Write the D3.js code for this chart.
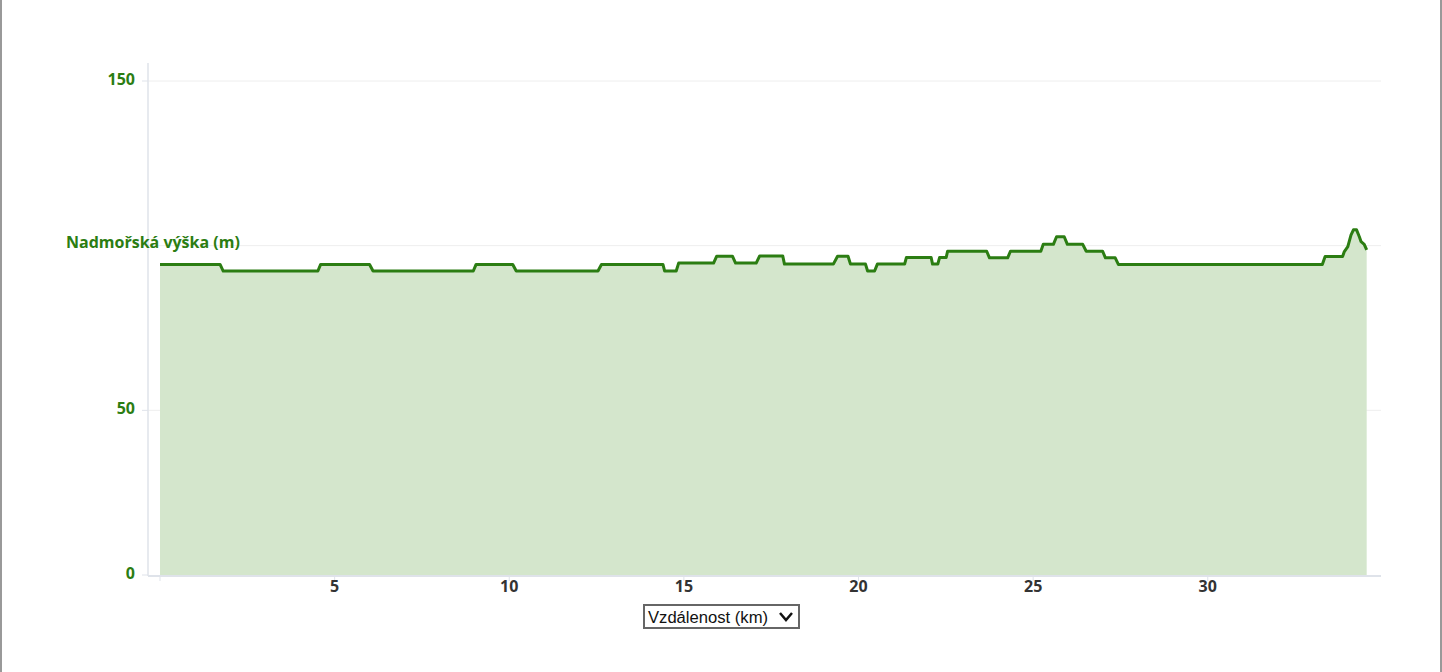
<!DOCTYPE html>
<html>
<head>
<meta charset="utf-8">
<script src="https://cdn.jsdelivr.net/npm/d3@7"></script>
<style>
  html, body { margin: 0; padding: 0; background: #fff; }
  #frame { width: 1442px; height: 672px; border-left: 2px solid #999; border-right: 2px solid #999; box-sizing: border-box; position: relative; }
  svg { display: block; margin-left: -2px; }
</style>
</head>
<body>
<div id="frame"><svg id="chart" width="1440" height="672"></svg></div>
<script>
// elevation profile: distance (km) and elevation (m)
const distances = [
  0, 1.72, 1.81, 4.52, 4.60, 6.00, 6.10, 8.97, 9.05, 10.10, 10.20, 12.54,
  12.64, 14.40, 14.45, 14.78, 14.85, 15.85, 15.94, 16.39, 16.48, 17.07,
  17.17, 17.83, 17.88, 19.28, 19.40, 19.70, 19.77, 20.20, 20.26, 20.46,
  20.54, 21.32, 21.37, 22.08, 22.12, 22.27, 22.32, 22.51, 22.55, 23.67,
  23.75, 24.27, 24.35, 25.22, 25.29, 25.58, 25.67, 25.89, 25.98, 26.42,
  26.52, 26.99, 27.07, 27.35, 27.44, 33.28, 33.36, 33.86, 33.91, 34.01,
  34.10, 34.17, 34.26, 34.34, 34.39, 34.48, 34.55
];
const elevations = [
  94.3, 94.3, 92.3, 92.3, 94.3, 94.3, 92.3, 92.3, 94.3, 94.3, 92.3, 92.3,
  94.3, 94.3, 92.3, 92.3, 94.7, 94.7, 96.8, 96.8, 94.7, 94.7,
  96.9, 96.9, 94.4, 94.4, 96.8, 96.8, 94.4, 94.4, 92.3, 92.3,
  94.4, 94.4, 96.4, 96.4, 94.4, 94.4, 96.4, 96.4, 98.3, 98.3,
  96.3, 96.3, 98.3, 98.3, 100.4, 100.4, 102.7, 102.7, 100.4, 100.4,
  98.3, 98.3, 96.3, 96.3, 94.3, 94.3, 96.7, 96.7, 98.2, 99.7,
  103.2, 104.8, 104.8, 102.7, 101.2, 100.4, 98.7
];
const xTicks = [5, 10, 15, 20, 25, 30];
const yTicks = [0, 50, 150];
const yTitle = "Nadmořská výška (m)";
const xTitle = "Vzdálenost (km)";

const data = distances.map((d, i) => ({ km: d, m: elevations[i] }));

const svg = d3.select("#chart");
const plot = { left: 148, right: 1381, top: 63, bottom: 576 };

const x = d3.scaleLinear().domain([0, 34.96]).range([160, 1381]);
const y = d3.scaleLinear().domain([0, 150]).range([575, 81]);

const green = "#2b7d12";
const tickFont = "bold 16px 'Open Sans', sans-serif";

// grid lines
svg.append("g")
  .selectAll("line")
  .data([50, 100, 150])
  .join("line")
  .attr("x1", plot.left)
  .attr("x2", plot.right)
  .attr("y1", (d) => y(d))
  .attr("y2", (d) => y(d))
  .attr("stroke", "#eeeeee")
  .attr("stroke-width", 1);

// area + line
const area = d3.area()
  .x((d) => x(d.km))
  .y0(y(0))
  .y1((d) => y(d.m));

const line = d3.line()
  .x((d) => x(d.km))
  .y((d) => y(d.m));

svg.append("path")
  .datum(data)
  .attr("fill", "#d4e6cc")
  .attr("d", area);

svg.append("path")
  .datum(data)
  .attr("fill", "none")
  .attr("stroke", green)
  .attr("stroke-width", 3)
  .attr("stroke-linejoin", "round")
  .attr("d", line);

// y axis
const yAxis = svg.append("g").attr("transform", `translate(${plot.left},0)`);
yAxis.append("line")
  .attr("y1", plot.top)
  .attr("y2", plot.bottom)
  .attr("stroke", "#dfe3ea")
  .attr("stroke-width", 1.5);
yAxis.selectAll("line.tick")
  .data([0, 50, 100, 150])
  .join("line")
  .attr("class", "tick")
  .attr("x1", -6)
  .attr("x2", 0)
  .attr("y1", (d) => y(d))
  .attr("y2", (d) => y(d))
  .attr("stroke", "#dfe3ea");
yAxis.selectAll("text")
  .data(yTicks)
  .join("text")
  .attr("x", -13)
  .attr("y", (d) => y(d) - 1)
  .attr("dy", "0.32em")
  .attr("text-anchor", "end")
  .attr("fill", green)
  .style("font", tickFont)
  .text((d) => d);

svg.append("text")
  .attr("x", 66)
  .attr("y", y(100) - 3)
  .attr("dy", "0.32em")
  .attr("fill", green)
  .style("font", "bold 16px 'Open Sans', sans-serif")
  .text(yTitle);

// x axis
const xAxis = svg.append("g").attr("transform", `translate(0,${plot.bottom})`);
xAxis.append("line")
  .attr("x1", plot.left)
  .attr("x2", plot.right)
  .attr("stroke", "#dfe3ea")
  .attr("stroke-width", 2);
xAxis.selectAll("line.tick")
  .data([0, ...xTicks])
  .join("line")
  .attr("class", "tick")
  .attr("x1", (d) => x(d))
  .attr("x2", (d) => x(d))
  .attr("y1", 0)
  .attr("y2", 5)
  .attr("stroke", "#dfe3ea");
xAxis.selectAll("text")
  .data(xTicks)
  .join("text")
  .attr("x", (d) => x(d))
  .attr("y", 11)
  .attr("dy", "0.32em")
  .attr("text-anchor", "middle")
  .attr("fill", "#333")
  .style("font", tickFont)
  .text((d) => d);

// distance selector box
const sel = svg.append("g").attr("transform", "translate(644,605)");
sel.append("rect")
  .attr("width", 155)
  .attr("height", 23)
  .attr("fill", "#fff")
  .attr("stroke", "#666")
  .attr("stroke-width", 2);
sel.append("text")
  .attr("x", 4)
  .attr("y", 12)
  .attr("dy", "0.35em")
  .attr("fill", "#111")
  .attr("textLength", 120)
  .attr("lengthAdjust", "spacingAndGlyphs")
  .style("font", "16px 'Liberation Sans', Arial, sans-serif")
  .text(xTitle);
sel.append("path")
  .attr("d", "M136,8 L142,15 L148,8")
  .attr("fill", "none")
  .attr("stroke", "#111")
  .attr("stroke-width", 2.5);
</script>
</body>
</html>
